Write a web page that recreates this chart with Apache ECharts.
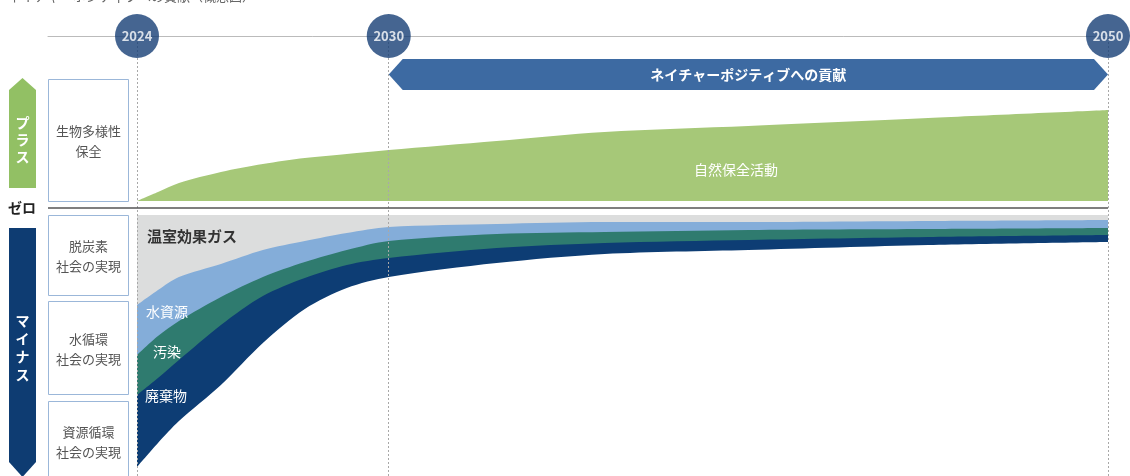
<!DOCTYPE html>
<html>
<head>
<meta charset="utf-8">
<script src="https://cdn.jsdelivr.net/npm/echarts@6/dist/echarts.min.js"></script>
<style>
  html, body { margin: 0; padding: 0; background: #fff; }
  #chart { width: 1130px; height: 476px; }
</style>
</head>
<body>
<div id="chart"></div>
<script>
// 時間軸（2024-2030 と 2030-2050 で目盛り幅が違う）
const years = [2024, 2024.5, 2025, 2026, 2027, 2028, 2029, 2030, 2033, 2036, 2040, 2045, 2050];
const milestones = [2024, 2030, 2050];

// プラス側：自然保全活動
const nature = [0, 9, 18, 29, 37, 43, 47, 51, 60, 69, 75, 83, 91];
// マイナス側（各層の厚み）
const ghg = [-90, -75, -62, -49, -35, -26, -18, -12, -9, -7, -7, -6, -5];
const water = [-50, -46, -44, -33, -27, -21, -17, -14, -10, -10, -8, -8, -8];
const pollution = [-40, -42, -39, -28, -19, -16, -15, -17, -14, -11, -10, -8, -7];
const waste = [-72, -65, -61, -60, -47, -31, -23, -19, -15, -11, -10, -8, -7];

const bannerLabel = 'ネイチャーポジティブへの貢献';
const FONT = '"Noto Sans CJK JP", "Noto Sans", sans-serif';

// 年 → 軸上の位置
const tl = (y) => (y <= 2030 ? ((y - 2024) * 7) / 6 : 7 + (y - 2030));

const GAP = 7; // ゼロ線の上下の余白
const Y_MAX = 172;
const Y_MIN = -268;

// 値軸では stack が使えないので境界線を累積で作る
const cum = (base, layers) => {
  let acc = years.map(() => base);
  return layers.map((layer) => (acc = acc.map((v, i) => v + layer[i])));
};
const [natureTop] = cum(GAP, [nature]);
const [ghgEdge, waterEdge, pollutionEdge, wasteEdge] = cum(-GAP, [ghg, water, pollution, waste]);

const pts = (arr) => years.map((y, i) => [tl(y), arr[i]]);
const flat = (v) => years.map((y) => [tl(y), v]);

const areaSeries = (name, data, color, z) => ({
  name,
  type: 'line',
  data,
  z,
  smooth: 0.3,
  symbol: 'none',
  lineStyle: { width: 0 },
  areaStyle: { color, opacity: 1 },
  silent: true,
});

const chart = echarts.init(document.getElementById('chart'));

chart.setOption({
  animation: false,
  grid: { left: 48, right: 22, top: 36, bottom: 0 },
  xAxis: [
    {
      type: 'value',
      min: -2.475,
      max: 27,
      axisLine: { show: false },
      axisTick: { show: false },
      axisLabel: { show: false },
      splitLine: { show: false },
    },
    {
      type: 'value',
      position: 'top',
      min: -2.475,
      max: 27,
      axisLine: { show: true, lineStyle: { color: '#bbb', width: 1 } },
      axisTick: { show: false },
      axisLabel: { show: false },
      splitLine: { show: false },
    },
  ],
  yAxis: { type: 'value', min: Y_MIN, max: Y_MAX, show: false },
  series: [
    // 外側の層から順に塗り重ねる
    areaSeries('自然保全活動', pts(natureTop), '#a6c878', 2),
    areaSeries('廃棄物', pts(wasteEdge), '#0d3d74', 2),
    areaSeries('汚染', pts(pollutionEdge), '#2f7b6f', 2),
    areaSeries('水資源', pts(waterEdge), '#84add9', 2),
    areaSeries('温室効果ガス', pts(ghgEdge), '#dcdddd', 2),
    areaSeries('gapPos', flat(GAP), '#fff', 3),
    Object.assign(areaSeries('gapNeg', flat(-GAP), '#fff', 3), {
      markLine: {
        silent: true,
        symbol: 'none',
        label: { show: false },
        data: [
          ...milestones.map((y) => ({
            xAxis: tl(y),
            lineStyle: { color: '#a8a8a8', type: [2, 2], width: 1 },
          })),
          { yAxis: 0, lineStyle: { color: '#555', type: 'solid', width: 1.5 } },
        ],
      },
    }),
    {
      // 2030→2050 の帯
      type: 'custom',
      silent: true,
      z: 4,
      data: [[tl(2030), tl(2050)]],
      renderItem: (params, api) => {
        const a = api.coord([api.value(0), 149]);
        const b = api.coord([api.value(1), 118]);
        const mid = (a[1] + b[1]) / 2;
        const d = 14;
        return {
          type: 'group',
          children: [
            {
              type: 'polygon',
              shape: {
                points: [
                  [a[0], mid], [a[0] + d, a[1]], [b[0] - d, a[1]],
                  [b[0], mid], [b[0] - d, b[1]], [a[0] + d, b[1]],
                ],
              },
              style: { fill: '#3d6aa2' },
            },
            {
              type: 'text',
              x: (a[0] + b[0]) / 2,
              y: mid,
              style: {
                text: bannerLabel,
                fill: '#fff',
                font: 'bold 14px ' + FONT,
                align: 'center',
                verticalAlign: 'middle',
              },
            },
          ],
        };
      },
    },
    {
      type: 'scatter',
      silent: true,
      clip: false,
      z: 6,
      symbolSize: 44,
      itemStyle: { color: '#173f75' },
      label: {
        show: true,
        position: 'inside',
        formatter: '{b}',
        color: '#fff',
        fontWeight: 'bold',
        fontSize: 13,
        fontFamily: FONT,
      },
      data: milestones.map((y) => ({ name: String(y), value: [tl(y), Y_MAX] })),
    },
  ],
  graphic: [
    // タイトル（上端で切れている）
    { type: 'text', x: 8, y: -10, style: { text: 'ネイチャーポジティブへの貢献（概念図）', fill: '#666', font: '13px ' + FONT } },
    // プラス矢印
    { type: 'polygon', shape: { points: [[9, 90], [22.5, 78], [36, 90], [36, 188], [9, 188]] }, style: { fill: '#92c064' } },
    { type: 'text', x: 22.5, y: 140, style: { text: 'プ\nラ\nス', fill: '#fff', font: 'bold 14px ' + FONT, align: 'center', verticalAlign: 'middle', lineHeight: 17 } },
    // マイナス矢印
    { type: 'polygon', shape: { points: [[9, 228], [36, 228], [36, 462], [22.5, 477], [9, 462]] }, style: { fill: '#0e3c72' } },
    { type: 'text', x: 22.5, y: 348, style: { text: 'マ\nイ\nナ\nス', fill: '#fff', font: 'bold 14px ' + FONT, align: 'center', verticalAlign: 'middle', lineHeight: 18 } },
    { type: 'text', x: 8, y: 208, style: { text: 'ゼロ', fill: '#222', font: 'bold 14px ' + FONT, verticalAlign: 'middle' } },
    // 左の枠
    { type: 'rect', shape: { x: 48.5, y: 79.5, width: 80, height: 122 }, style: { fill: '#fff', stroke: '#9bb7d9', lineWidth: 1 } },
    { type: 'rect', shape: { x: 48.5, y: 215.5, width: 80, height: 80 }, style: { fill: '#fff', stroke: '#9bb7d9', lineWidth: 1 } },
    { type: 'rect', shape: { x: 48.5, y: 301.5, width: 80, height: 93 }, style: { fill: '#fff', stroke: '#9bb7d9', lineWidth: 1 } },
    { type: 'rect', shape: { x: 48.5, y: 401.5, width: 80, height: 80 }, style: { fill: '#fff', stroke: '#9bb7d9', lineWidth: 1 } },
    { type: 'text', x: 88.5, y: 141, style: { text: '生物多様性\n保全', fill: '#555', font: '13px ' + FONT, align: 'center', verticalAlign: 'middle', lineHeight: 20 } },
    { type: 'text', x: 88.5, y: 256, style: { text: '脱炭素\n社会の実現', fill: '#555', font: '13px ' + FONT, align: 'center', verticalAlign: 'middle', lineHeight: 20 } },
    { type: 'text', x: 88.5, y: 349, style: { text: '水循環\n社会の実現', fill: '#555', font: '13px ' + FONT, align: 'center', verticalAlign: 'middle', lineHeight: 20 } },
    { type: 'text', x: 88.5, y: 442, style: { text: '資源循環\n社会の実現', fill: '#555', font: '13px ' + FONT, align: 'center', verticalAlign: 'middle', lineHeight: 20 } },
    // エリア内のラベル
    { type: 'text', x: 736, y: 170, z: 10, style: { text: '自然保全活動', fill: '#fff', font: '14px ' + FONT, align: 'center', verticalAlign: 'middle' } },
    { type: 'text', x: 147, y: 236, z: 10, style: { text: '温室効果ガス', fill: '#333', font: 'bold 15px ' + FONT, verticalAlign: 'middle' } },
    { type: 'text', x: 146, y: 312, z: 10, style: { text: '水資源', fill: '#fff', font: '14px ' + FONT, verticalAlign: 'middle' } },
    { type: 'text', x: 153, y: 352, z: 10, style: { text: '汚染', fill: '#fff', font: '14px ' + FONT, verticalAlign: 'middle' } },
    { type: 'text', x: 145, y: 396, z: 10, style: { text: '廃棄物', fill: '#fff', font: '14px ' + FONT, verticalAlign: 'middle' } },
  ],
});
</script>
</body>
</html>
